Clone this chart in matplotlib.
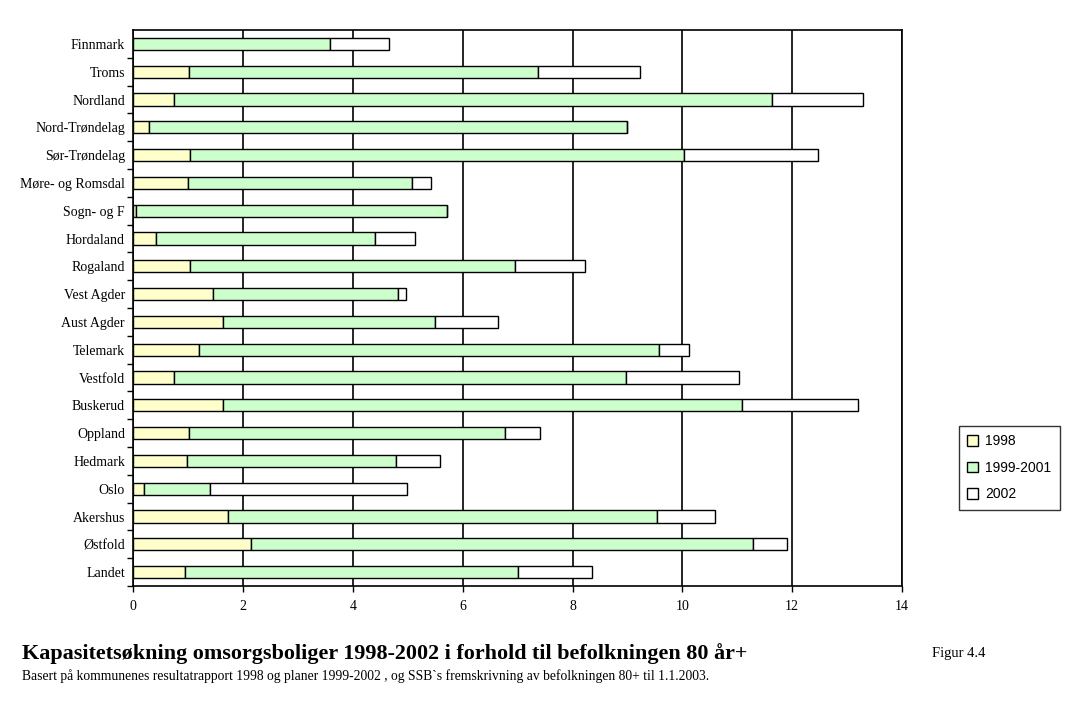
import numpy as np
import matplotlib.pyplot as plt

# Fylker, nederst til overst som i figuren
fylker = ['Landet', 'Østfold', 'Akershus', 'Oslo', 'Hedmark', 'Oppland', 'Buskerud',
          'Vestfold', 'Telemark', 'Aust Agder', 'Vest Agder', 'Rogaland', 'Hordaland',
          'Sogn- og F', 'Møre- og Romsdal', 'Sør-Trøndelag', 'Nord-Trøndelag',
          'Nordland', 'Troms', 'Finnmark']

v1998 = [0.95, 2.15, 1.73, 0.19, 0.98, 1.02, 1.64, 0.75, 1.20, 1.64, 1.46, 1.04, 0.42,
         0.05, 0.99, 1.04, 0.29, 0.75, 1.02, 0.00]
v1999_2001 = [6.06, 9.14, 7.81, 1.21, 3.81, 5.75, 9.45, 8.23, 8.38, 3.86, 3.37, 5.92, 3.99,
              5.67, 4.08, 8.99, 8.71, 10.89, 6.35, 3.59]
v2002 = [1.35, 0.62, 1.06, 3.58, 0.80, 0.63, 2.11, 2.05, 0.55, 1.15, 0.13, 1.26, 0.73,
         0.00, 0.35, 2.45, 0.00, 1.65, 1.86, 1.07]

serif = 'Liberation Serif'

fig = plt.figure(figsize=(10.88, 7.05), dpi=100)
ax = fig.add_axes([0.1225, 0.1688, 0.7065, 0.7886])

y = np.arange(len(fylker))
h = 0.44
ax.barh(y, v1998, height=h, color='#FFFFCC', edgecolor='black', linewidth=1, label='1998', zorder=3)
ax.barh(y, v1999_2001, height=h, left=v1998, color='#CCFFCC', edgecolor='black', linewidth=1,
        label='1999-2001', zorder=3)
venstre = np.array(v1998) + np.array(v1999_2001)
ax.barh(y, v2002, height=h, left=venstre, color='white', edgecolor='black', linewidth=1,
        label='2002', zorder=3)

ax.set_xlim(0, 14)
ax.set_ylim(-0.5, len(fylker) - 0.5)
ax.set_xticks(range(0, 15, 2))
ax.set_xticklabels([str(t) for t in range(0, 15, 2)], fontfamily=serif, fontsize=10)
ax.xaxis.grid(True, color='black', linewidth=1.2, zorder=0)

# etiketter midt paa kategorien, tick-streker mellom kategoriene
ax.set_yticks(y)
ax.set_yticklabels(fylker, fontfamily=serif, fontsize=10)
ax.tick_params(axis='y', length=0, pad=6)
ax.set_yticks(np.arange(-0.5, len(fylker) - 1, 1), minor=True)
ax.tick_params(axis='y', which='minor', length=4, width=1)
ax.tick_params(axis='x', length=4, width=1, pad=6)

for s in ax.spines.values():
    s.set_linewidth(1.2)

leg = fig.legend(loc='upper left', bbox_to_anchor=(0.8814, 0.3957), borderaxespad=0,
                 frameon=True, fancybox=False, edgecolor='black',
                 prop={'family': 'Liberation Sans', 'size': 10},
                 handlelength=0.8, handleheight=0.8, labelspacing=0.9, borderpad=0.6,
                 handletextpad=0.5)
leg.get_frame().set_linewidth(1)

fig.text(0.020, 0.073, 'Kapasitetsøkning omsorgsboliger 1998-2002 i forhold til befolkningen 80 år+',
         fontfamily=serif, fontweight='bold', fontsize=15.9, va='center')
fig.text(0.020, 0.041, 'Basert på kommunenes resultatrapport 1998 og planer 1999-2002 , og SSB`s '
         'fremskrivning av befolkningen 80+ til 1.1.2003.', fontfamily=serif, fontsize=9.8, va='center')
fig.text(0.857, 0.073, 'Figur 4.4', fontfamily=serif, fontsize=10.5, va='center')

fig.savefig('out.png', dpi=100)
